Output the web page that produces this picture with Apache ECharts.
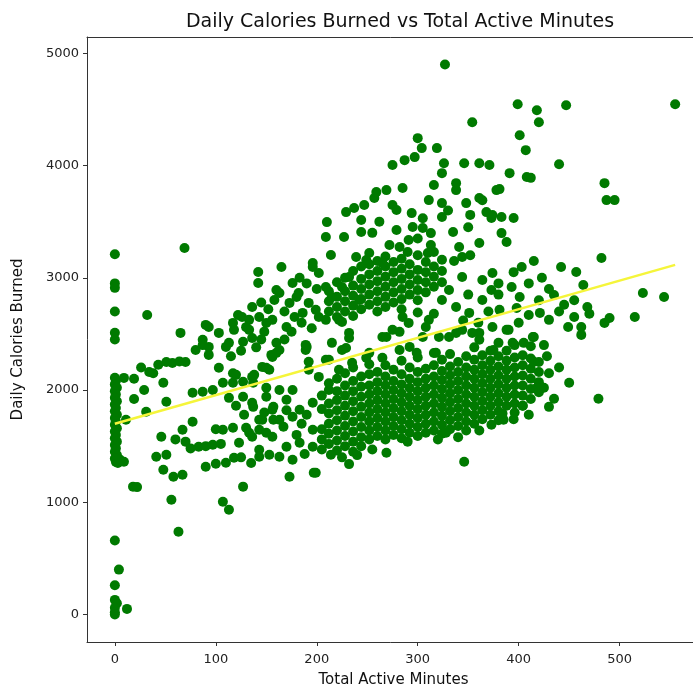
<!DOCTYPE html>
<html><head><meta charset="utf-8">
<script src="https://cdn.jsdelivr.net/npm/echarts@6/dist/echarts.min.js"></script>
<style>html,body{margin:0;padding:0;background:#fff}#c{width:693px;height:690px}</style>
</head><body><div id="c"></div>
<script>
const titleText = 'Daily Calories Burned vs Total Active Minutes';
const xName = 'Total Active Minutes';
const yName = 'Daily Calories Burned';
const xTicks = [0, 100, 200, 300, 400, 500];
const yTicks = [0, 1000, 2000, 3000, 4000, 5000];

const zeroMinutes = [[0,3210],[0,2950],[0,2910],[0,2700],[0,2510],[0,2450],[0,2110],[1,2080],[0,2050],[2,2020],[0,1990],[1,1960],[0,1930],[2,1900],[0,1870],[1,1840],[0,1810],[2,1780],[0,1750],[1,1720],[0,1690],[2,1660],[0,1630],[1,1600],[0,1570],[2,1540],[0,1510],[1,1480],[0,1450],[2,1420],[0,1390],[1,1360],[3,1350],[0,660],[4,400],[0,260],[0,130],[2,100],[0,60],[0,20],[0,0],[12,50]];

const upperLeft = [[9,2108],[19,2100],[26,2200],[34,2160],[38,2150],[43,2225],[48,2065],[29,2000],[51,2250],[57,2240],[64,2255],[70,2250],[32,2669],[65,2509],[69,3265],[77,1975],[87,1984],[97,2000],[80,2357],[87,2400],[93,2313],[87,2447],[93,2562],[90,2580],[93,2384],[103,2198],[103,2509],[113,2420],[110,2384],[118,2536],[117,2598],[122,2669],[107,2065],[117,2065],[117,2150],[120,2135],[113,1930],[127,1940],[126,2651],[127,2430],[133,2536],[136,2740],[143,2651],[142,3052],[142,2954],[136,2464],[138,2135],[137,2065],[127,2073],[137,1850],[136,2117],[150,2020],[146,2206],[133,2625],[150,2598],[155,2313],[160,2420],[156,2295],[163,2357],[170,2562],[165,3096],[160,2891],[158,2802],[163,2865],[156,2625],[173,2776],[160,2331],[153,2180],[150,2198],[163,2000],[157,1850],[150,1940],[156,1824],[170,1913],[176,2000],[176,2954],[180,2829],[182,2865],[186,2687],[192,2776],[196,3132],[196,3096],[199,2714],[189,2357],[190,2384],[192,2180],[189,2402],[192,2251],[183,1824],[196,1886],[115,2300],[125,2350],[140,2380],[145,2450],[130,2560],[148,2520],[168,2450],[175,2520],[178,2650],[168,2700],[185,2600],[195,2550],[190,2950],[183,3000],[200,2900],[152,2720],[145,2780]];

const lowerLeft = [[11,1735],[19,1920],[9,1361],[5,1380],[18,1139],[22,1135],[31,1806],[46,1584],[41,1406],[51,1423],[48,1290],[51,1895],[67,1646],[70,1540],[58,1228],[67,1245],[56,1023],[63,738],[77,1717],[83,1495],[97,1512],[90,1317],[100,1343],[107,1646],[117,1664],[110,1352],[118,1397],[107,1005],[113,934],[130,1664],[133,1620],[143,1646],[136,1886],[143,1735],[146,1735],[136,1584],[143,1468],[143,1406],[127,1139],[150,1620],[153,1423],[163,1406],[157,1735],[167,1673],[163,1735],[156,1584],[170,1495],[176,1762],[176,1379],[173,1228],[183,1530],[196,1495],[196,1646],[199,1263],[188,1430],[90,1500],[75,1480],[105,1520],[123,1530],[128,1780],[120,1860],[148,1800],[185,1700],[190,1780],[180,1600],[170,1820],[60,1560],[100,1650],[125,1400],[135,1350]];

const lowerCore = [[205,1470],[205,1560],[205,1650],[205,1830],[205,1950],
[212,1520],[212,1610],[212,1700],[212,1790],[212,1880],[212,2000],[212,2060],
[220,1460],[220,1550],[220,1640],[220,1730],[220,1820],[220,1910],[220,1990],[220,2100],
[228,1500],[228,1590],[228,1680],[228,1770],[228,1860],[228,1950],[228,2040],[228,2150],
[236,1450],[236,1540],[236,1630],[236,1720],[236,1810],[236,1900],[236,1990],[236,2080],[236,2200],
[244,1500],[244,1580],[244,1670],[244,1760],[244,1850],[244,1940],[244,2030],[244,2120],
[252,1560],[252,1640],[252,1720],[252,1800],[252,1880],[252,1960],[252,2040],[252,2140],[252,2230],
[260,1590],[260,1670],[260,1750],[260,1830],[260,1910],[260,1990],[260,2070],[260,2160],
[268,1560],[268,1640],[268,1720],[268,1800],[268,1880],[268,1960],[268,2040],[268,2120],[268,2220],
[276,1600],[276,1680],[276,1760],[276,1840],[276,1920],[276,2000],[276,2080],[276,2180],
[284,1570],[284,1650],[284,1730],[284,1810],[284,1890],[284,1970],[284,2050],[284,2140],[284,2260],
[292,1620],[292,1700],[292,1780],[292,1860],[292,1940],[292,2020],[292,2100],[292,2200],
[300,1590],[300,1670],[300,1750],[300,1830],[300,1910],[300,1990],[300,2070],[300,2160],[300,2290],
[308,1620],[308,1700],[308,1780],[308,1860],[308,1940],[308,2020],[308,2100],[308,2190],
[316,1640],[316,1720],[316,1800],[316,1880],[316,1960],[316,2040],[316,2120],[316,2220],[316,2330],
[324,1610],[324,1690],[324,1770],[324,1850],[324,1930],[324,2010],[324,2090],[324,2170],[324,2270],
[332,1650],[332,1730],[332,1810],[332,1890],[332,1970],[332,2050],[332,2130],[332,2210],[332,2320],
[340,1680],[340,1760],[340,1840],[340,1920],[340,2000],[340,2080],[340,2160],[340,2250],
[348,1640],[348,1720],[348,1800],[348,1880],[348,1960],[348,2040],[348,2120],[348,2200],[348,2300],
[356,1700],[356,1780],[356,1860],[356,1940],[356,2020],[356,2100],[356,2180],[356,2270],[356,2380],
[364,1740],[364,1820],[364,1900],[364,1980],[364,2060],[364,2140],[364,2220],[364,2310],
[372,1780],[372,1860],[372,1940],[372,2020],[372,2100],[372,2180],[372,2260],[372,2350],
[380,1730],[380,1810],[380,1890],[380,1970],[380,2050],[380,2130],[380,2210],[380,2300],[380,2420],
[388,1860],[388,1940],[388,2020],[388,2100],[388,2180],[388,2260],[388,2350],
[396,1800],[396,1880],[396,1960],[396,2040],[396,2120],[396,2200],[396,2290],[396,2400],
[404,1860],[404,1950],[404,2040],[404,2130],[404,2220],[404,2310],
[412,1920],[412,2010],[412,2100],[412,2190],[412,2280],[412,2390],
[420,1980],[420,2070],[420,2160],[420,2250]];

const upperCore = [[212,2700],[212,2790],[212,2880],
[220,2650],[220,2740],[220,2830],[220,2960],
[228,2700],[228,2790],[228,2880],[228,3000],
[236,2660],[236,2750],[236,2840],[236,2930],[236,3060],
[244,2720],[244,2810],[244,2900],[244,2990],[244,3100],
[252,2760],[252,2850],[252,2940],[252,3030],[252,3120],[252,3220],
[260,2700],[260,2790],[260,2880],[260,2970],[260,3060],[260,3150],
[268,2740],[268,2830],[268,2920],[268,3010],[268,3100],[268,3190],
[276,2780],[276,2870],[276,2960],[276,3050],[276,3140],
[284,2720],[284,2810],[284,2900],[284,2990],[284,3080],[284,3170],
[292,2850],[292,2940],[292,3030],[292,3120],
[300,2800],[300,2890],[300,2980],[300,3070],[300,3200],
[308,2870],[308,2960],[308,3050],[308,3140],
[316,2920],[316,3010],[316,3100],[316,3230],
[324,2960],[324,3060],[324,3160]];

const upperScatter = [[210,3496],[209,3363],[214,3203],[229,3585],[237,3621],[244,3514],[244,3408],[227,3363],[247,3648],[239,3185],[249,3158],[257,3710],[259,3763],[269,3781],[275,3648],[279,3603],[272,3292],[282,3274],[291,3336],[279,3425],[265,3132],[275,4004],[285,3799],[287,4048],[297,4075],[300,4244],[304,4155],[294,3576],[305,3530],[295,3452],[305,3443],[313,3398],[324,3541],[313,3292],[311,3692],[324,3665],[316,3826],[319,4155],[326,4021],[324,3932],[327,4900],[338,3843],[338,3781],[346,4021],[348,3665],[335,3408],[341,3274],[344,3185],[354,4386],[361,4021],[371,4004],[361,3710],[364,3690],[361,3310],[374,3559],[368,3585],[373,3532],[378,3781],[381,3790],[391,3932],[383,3541],[395,3532],[383,3398],[388,3318],[399,4546],[401,4270],[407,4137],[408,3897],[412,3890],[418,4493],[420,4386],[415,3150],[403,3096],[440,4012],[447,4537],[442,3096],[457,3052],[482,3176],[485,3843],[487,3692],[495,3692],[555,4546],[255,3400],[262,3500],[300,3350],[330,3600],[350,3450],[352,3560],[336,3150],[352,3200],[290,3230],[310,3220]];

const middleScatter = [[331,2891],[344,3007],[364,2980],[374,3043],[364,2802],[324,2802],[338,2740],[351,2687],[311,2625],[305,2473],[318,2331],[321,2473],[308,2562],[331,2473],[344,2536],[361,2509],[374,2562],[338,2509],[354,2509],[361,2447],[282,2357],[299,2331],[282,2518],[292,2384],[291,2598],[275,2536],[265,2473],[269,2473],[265,2287],[252,2331],[232,2509],[232,2464],[229,2375],[225,2607],[215,2420],[209,2625],[222,2625],[225,2357],[212,2269],[202,2117],[209,2269],[222,2180],[235,2242],[249,2287],[242,2802],[232,3007],[225,2918],[215,2829],[202,3043],[209,2918],[202,2651],[373,2891],[393,2918],[401,2829],[381,2714],[398,2731],[410,2669],[421,2687],[390,2536],[388,2536],[375,2357],[394,2420],[415,2473],[405,2420],[414,2473],[423,3000],[430,2625],[435,2847],[449,2562],[462,2562],[462,2491],[464,2936],[485,2598],[490,2642],[515,2651],[523,2865],[544,2829],[350,2850],[380,2950],[345,2620],[300,2690],[316,2680],[285,2650],[400,2600],[440,2700],[455,2800],[470,2680],[360,2600],[430,2900],[445,2760],[468,2740],[410,2950],[395,3050],[420,2800],[380,2850],[370,2700],[455,2650]];

const lowerRight = [[415,2251],[418,2020],[425,2020],[450,2065],[435,1922],[479,1922],[404,1860],[385,1735],[384,1790],[430,2150],[428,2300],[440,2200],[425,2400],[410,1780],[395,1740],[430,1850],[346,1361],[269,1441],[197,1263],[214,1423],[328,1620],[340,1580],[361,1640],[373,1690],[320,1560],[290,1540],[225,1400],[240,1420],[255,1470],[232,1340]];

const fitX = [0, 555];
const fitY = [1700, 3115];

const allPoints = [].concat(zeroMinutes, upperLeft, lowerLeft, lowerCore, upperCore, upperScatter, middleScatter, lowerRight);

const chart = echarts.init(document.getElementById('c'), null, {renderer: 'canvas'});
const font = 'DejaVu Sans';
const xMin = -27.6, xMax = 579.6, yMin = -245, yMax = 5145;
chart.setOption({
  animation: false,
  backgroundColor: '#fff',
  title: {
    text: titleText, left: 395, top: 8, textAlign: 'center',
    textStyle: {fontFamily: font, fontSize: 19, fontWeight: 'normal', color: '#111'}
  },
  grid: {left: 87, top: 37, width: 613, height: 605, show: false, outerBoundsMode: 'none', containLabel: false},
  xAxis: [{
    type: 'value', min: xMin, max: xMax, position: 'bottom',
    name: xName, nameLocation: 'middle', nameGap: 31,
    nameTextStyle: {fontFamily: font, fontSize: 15, color: '#111'},
    splitLine: {show: false}, axisLine: {show: true, onZero: false, lineStyle: {color: '#333', width: 1}},
    axisTick: {show: true, length: 4, lineStyle: {color: '#333'}, customValues: xTicks},
    axisLabel: {fontFamily: font, fontSize: 13, color: '#222', margin: 11, customValues: xTicks, formatter: v => String(v)}
  }, {
    type: 'value', min: xMin, max: xMax, position: 'top',
    splitLine: {show: false}, axisLine: {show: true, onZero: false, lineStyle: {color: '#333', width: 1}},
    axisTick: {show: false}, axisLabel: {show: false}
  }],
  yAxis: {
    type: 'value', min: yMin, max: yMax,
    name: yName, nameLocation: 'middle', nameGap: 61, nameRotate: 90,
    nameTextStyle: {fontFamily: font, fontSize: 15, color: '#111'},
    splitLine: {show: false}, axisLine: {show: true, onZero: false, lineStyle: {color: '#333', width: 1}},
    axisTick: {show: true, length: 4, lineStyle: {color: '#333'}, customValues: yTicks},
    axisLabel: {fontFamily: font, fontSize: 13, color: '#222', margin: 8, customValues: yTicks, formatter: v => String(v)}
  },
  series: [
    {type: 'scatter', data: allPoints, symbolSize: 10, itemStyle: {color: '#007a00', opacity: 1}, z: 2},
    {type: 'line', data: fitX.map((x, i) => [x, fitY[i]]), symbol: 'none', lineStyle: {color: '#f5f53a', width: 2.5}, z: 3}
  ]
});
</script></body></html>
